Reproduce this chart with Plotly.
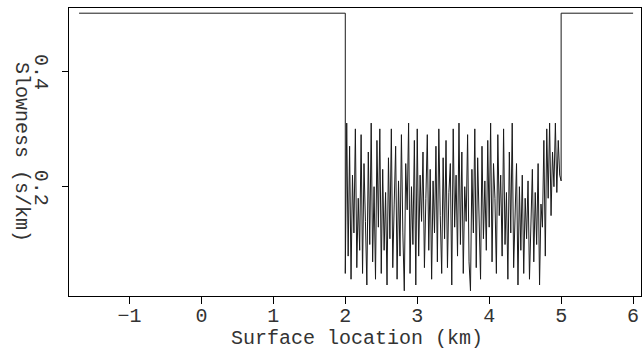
import numpy as np
import plotly.graph_objects as go

# Data (slowness in s/km vs surface location in km)
left_x = [-1.7, 2.0]
left_s = [0.5, 0.5]
noise_start = 2.0
noise_step = 0.02
noise_s = [
    0.05, 0.31, 0.08, 0.27, 0.04, 0.22, 0.12, 0.30, 0.06, 0.18,
    0.09, 0.29, 0.05, 0.24, 0.14, 0.03, 0.26, 0.10, 0.31, 0.07,
    0.20, 0.04, 0.28, 0.13, 0.30, 0.05, 0.23, 0.09, 0.19, 0.03,
    0.25, 0.11, 0.30, 0.06, 0.17, 0.27, 0.04, 0.21, 0.08, 0.29,
    0.12, 0.02, 0.24, 0.16, 0.31, 0.05, 0.20, 0.10, 0.28, 0.03,
    0.30, 0.08, 0.22, 0.14, 0.26, 0.06, 0.18, 0.29, 0.09, 0.23,
    0.04, 0.21, 0.12, 0.27, 0.07, 0.30, 0.15, 0.05, 0.25, 0.11,
    0.28, 0.06, 0.19, 0.24, 0.03, 0.30, 0.13, 0.22, 0.08, 0.31,
    0.10, 0.26, 0.05, 0.20, 0.14, 0.29, 0.07, 0.02, 0.23, 0.12,
    0.30, 0.06, 0.25, 0.16, 0.04, 0.27, 0.11, 0.21, 0.09, 0.28,
    0.13, 0.31, 0.07, 0.24, 0.18, 0.05, 0.29, 0.15, 0.22, 0.08,
    0.30, 0.10, 0.19, 0.04, 0.26, 0.12, 0.31, 0.06, 0.17, 0.24,
    0.03, 0.20, 0.09, 0.22, 0.05, 0.18, 0.11, 0.21, 0.04, 0.16,
    0.23, 0.07, 0.19, 0.10, 0.24, 0.03, 0.17, 0.13, 0.28, 0.08,
    0.30, 0.18, 0.31, 0.15, 0.26, 0.20, 0.31, 0.19, 0.28, 0.22,
    0.21,
]
right_x = [5.0, 6.0]
right_s = [0.5, 0.5]

x_ticks = [-1, 0, 1, 2, 3, 4, 5, 6]
y_ticks = [0.2, 0.4]

noise_x = list(noise_start + noise_step * np.arange(len(noise_s)))
x_all = left_x + noise_x + right_x
s_all = left_s + noise_s + right_s

FONT = "Liberation Mono"
FSIZE = 20
TXT = "#333333"

fig = go.Figure()
fig.add_trace(go.Scatter(x=x_all, y=s_all, mode="lines",
                         line=dict(color="#1a1a1a", width=1), hoverinfo="skip"))

fig.update_layout(
    width=644, height=350,
    margin=dict(l=69, r=3, t=8, b=54, autoexpand=False),
    paper_bgcolor="white", plot_bgcolor="white",
    showlegend=False,
    font=dict(family=FONT, size=FSIZE, color=TXT),
)
fig.update_xaxes(
    range=[-1.84, 6.11], tickvals=x_ticks, showgrid=False, zeroline=False,
    showline=True, linecolor="black", linewidth=1, mirror=True,
    ticks="outside", ticklen=7, tickcolor="black", automargin=False,
    ticklabeloverflow="allow", ticklabelstandoff=-6,
)
fig.update_yaxes(
    range=[0.011, 0.509], tickvals=y_ticks, showgrid=False, zeroline=False,
    showline=True, linecolor="black", linewidth=1, mirror=True,
    ticks="outside", ticklen=6, tickcolor="black", tickangle=90,
    automargin=False, ticklabelstandoff=3, ticklabelshift=4,
)
fig.add_annotation(
    text="Slowness (s/km)", textangle=90, xref="paper", yref="paper",
    x=(22 - 69) / 572, y=(296 - 152) / 288, xanchor="center", yanchor="middle",
    showarrow=False, font=dict(family=FONT, size=FSIZE, color=TXT),
)
fig.add_annotation(
    text="Surface location (km)", xref="paper", yref="paper",
    x=(357 - 69) / 572, y=-(338 - 296) / 288, xanchor="center", yanchor="middle",
    showarrow=False, font=dict(family=FONT, size=FSIZE, color=TXT),
)

fig.write_html(
    "out.html",
    config={"displayModeBar": False},
    post_script="document.body.style.margin='0';document.body.style.padding='0';",
)
